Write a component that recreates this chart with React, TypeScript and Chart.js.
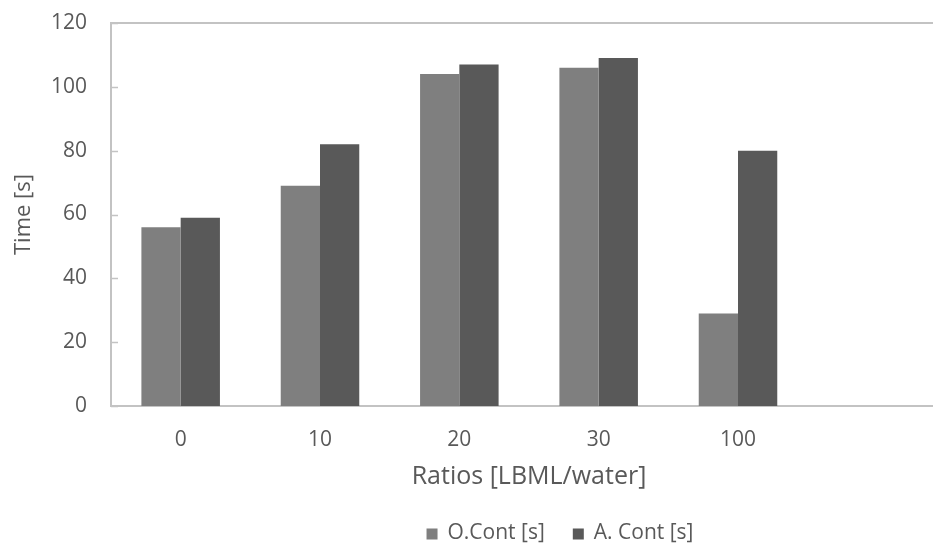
import React, { useEffect, useRef } from "react";
import { Chart, registerables } from "chart.js";

Chart.register(...registerables);

// Mixing ratios (the last slot is left empty on purpose)
const categories = ["0", "10", "20", "30", "100", ""];
const oContSeconds = [56, 69, 104, 106, 29, null];
const aContSeconds = [59, 82, 107, 109, 80, null];
const seriesNames = ["O.Cont [s]", "A. Cont [s]"];
const seriesColors = ["#7f7f7f", "#595959"];
const yTicks = [0, 20, 40, 60, 80, 100, 120];

const FONT = "'Open Sans', 'Noto Sans', sans-serif";
const TEXT = "#595959";
const LINE = "#c3c3c3";

// Top frame line plus small inward tick marks on the value axis
const framePlugin = {
  id: "frame",
  afterDraw(chart: any) {
    const { ctx, chartArea } = chart;
    const y = chart.scales.y;
    ctx.save();
    ctx.strokeStyle = LINE;
    ctx.lineWidth = 2;
    ctx.beginPath();
    ctx.moveTo(chartArea.left - 1, chartArea.top);
    ctx.lineTo(chartArea.right, chartArea.top);
    ctx.stroke();
    ctx.lineWidth = 1.5;
    y.ticks.forEach((_t: any, i: number) => {
      const py = Math.round(y.getPixelForTick(i)) + 0.5;
      ctx.beginPath();
      ctx.moveTo(chartArea.left, py);
      ctx.lineTo(chartArea.left + 7, py);
      ctx.stroke();
    });
    ctx.restore();
  },
};

// Legend row under the axis title
const legendPlugin = {
  id: "bottomLegend",
  afterDraw(chart: any) {
    const { ctx } = chart;
    const datasets = chart.data.datasets;
    ctx.save();
    ctx.font = `21px ${FONT}`;
    ctx.textBaseline = "middle";
    const box = 11;
    const gapBoxText = 10;
    const gapItems = 28;
    const widths = datasets.map((d: any) => box + gapBoxText + ctx.measureText(d.label).width);
    const total = widths.reduce((a: number, b: number) => a + b, 0) + gapItems * (datasets.length - 1);
    let x = 560 - total / 2;
    const cy = 533;
    datasets.forEach((d: any, i: number) => {
      ctx.fillStyle = d.backgroundColor;
      ctx.fillRect(x, cy - box / 2 + 1, box, box);
      ctx.fillStyle = TEXT;
      ctx.fillText(d.label, x + box + gapBoxText, cy);
      x += widths[i] + gapItems;
    });
    ctx.restore();
  },
};

export default function App() {
  const ref = useRef<HTMLCanvasElement | null>(null);

  useEffect(() => {
    if (!ref.current) return;
    const chart = new Chart(ref.current, {
      type: "bar",
      data: {
        labels: categories,
        datasets: [
          { label: seriesNames[0], data: oContSeconds, backgroundColor: seriesColors[0] },
          { label: seriesNames[1], data: aContSeconds, backgroundColor: seriesColors[1] },
        ],
      },
      options: {
        responsive: false,
        animation: false,
        layout: { padding: { top: 23, right: 13, left: 11, bottom: 48 } },
        datasets: { bar: { categoryPercentage: 0.5636, barPercentage: 1.0 } },
        plugins: { legend: { display: false }, tooltip: { enabled: false } },
        scales: {
          x: {
            grid: { display: false, drawTicks: false },
            border: { display: true, color: LINE, width: 2 },
            ticks: { color: TEXT, font: { family: FONT, size: 21 }, padding: 21, maxRotation: 0 },
            title: {
              display: true,
              text: "Ratios [LBML/water]",
              color: TEXT,
              font: { family: FONT, size: 25 },
              padding: { top: 0, bottom: 4 },
            },
            afterFit(scale: any) {
              scale.height = 90;
            },
          },
          y: {
            min: 0,
            max: 120,
            afterBuildTicks(scale: any) {
              scale.ticks = yTicks.map((v) => ({ value: v }));
            },
            grid: { display: false, drawTicks: false },
            border: { display: true, color: LINE, width: 2 },
            ticks: { color: TEXT, font: { family: FONT, size: 21 }, padding: 24 },
            title: {
              display: true,
              text: "Time [s]",
              color: TEXT,
              font: { family: FONT, size: 22 },
              padding: { top: 0, bottom: 0 },
            },
            afterFit(scale: any) {
              scale.width = 100;
              scale.paddingTop = 0;
              scale.paddingBottom = 0;
            },
          },
        },
      },
      plugins: [framePlugin, legendPlugin],
    });
    return () => chart.destroy();
  }, []);

  return (
    <div
      style={{
        position: "fixed",
        left: 0,
        top: 0,
        width: 933,
        height: 544,
        overflow: "hidden",
        background: "#ffffff",
      }}
    >
      <canvas ref={ref} width={960} height={544} />
    </div>
  );
}
